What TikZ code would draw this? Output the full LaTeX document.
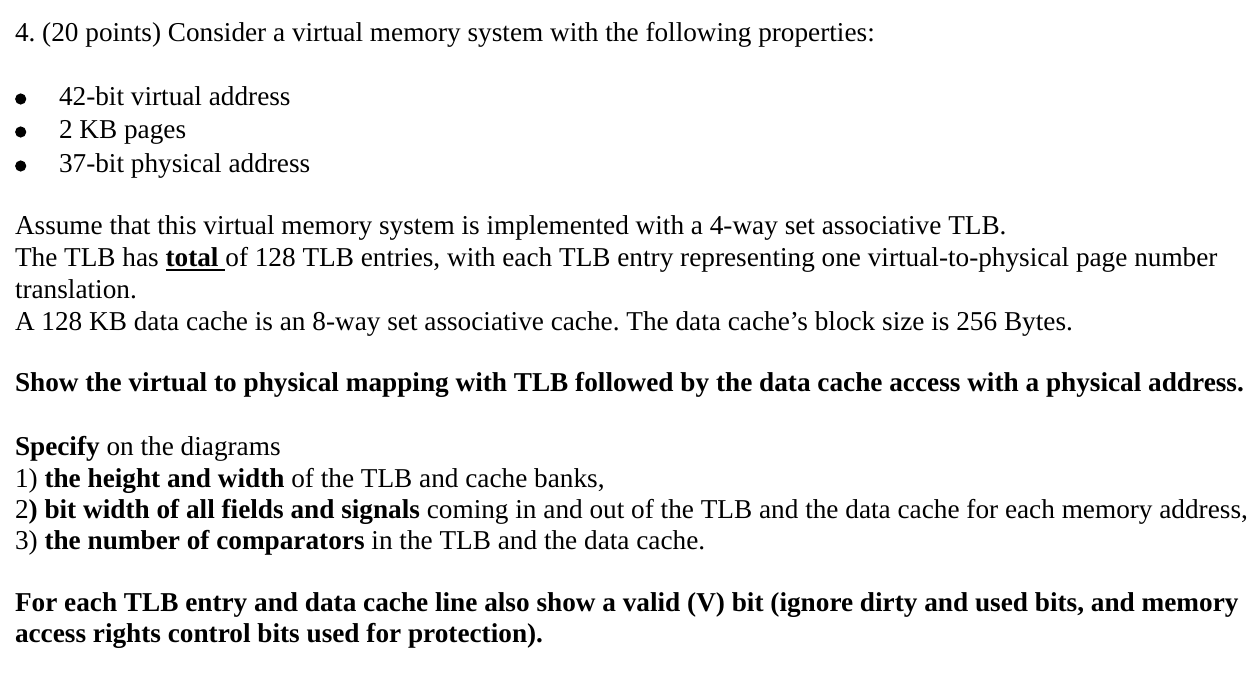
\documentclass[tikz,border=0pt]{standalone}
\usepackage{fontspec}
\setmainfont{Liberation Serif}
\newcommand\mainsz{\fontsize{27.25}{32}\selectfont\frenchspacing}
\newcommand\myul[1]{\setbox0\hbox{#1}\rlap{\rule[-4.5pt]{\wd0}{2.2pt}}\box0}
\begin{document}
\begin{tikzpicture}[x=1pt,y=-1pt,
  txt/.style={anchor=base west, inner sep=0pt, outer sep=0pt, font=\mainsz},
  bul/.style={fill=black}]
\useasboundingbox[fill=white] (0,0) rectangle (1256,700);
\node[txt] (l1) at (15,42) {4. (20 points) Consider a virtual memory system with the following properties:};
\coordinate (b1) at (20.7,99);
\coordinate (b2) at (20.7,132);
\coordinate (b3) at (20.7,166);
\foreach \b in {b1,b2,b3} \fill[bul] (\b) circle[radius=5.6pt];
\node[txt] (p1) at (59,106) {42-bit virtual address};
\node[txt] (p2) at (59,139) {2 KB pages};
\node[txt] (p3) at (59,173) {37-bit physical address};
\node[txt] (a1) at (15,235) {Assume that this virtual memory system is implemented with a 4-way set associative TLB.};
\node[txt] (a2) at (15,267) {The TLB has \myul{\textbf{total }}of 128 TLB entries, with each TLB entry representing one virtual-to-physical page number};
\node[txt] (a3) at (15,299) {translation.};
\node[txt] (a4) at (15,331) {A 128 KB data cache is an 8-way set associative cache. The data cache’s block size is 256 Bytes.};
\node[txt] (s1) at (15,392) {\textbf{Show the virtual to physical mapping with TLB followed by the data cache access with a physical address.}};
\node[txt] (c0) at (15,455) {\textbf{Specify} on the diagrams};
\node[txt] (c1) at (15,487) {1) \textbf{the height and width} of the TLB and cache banks,};
\node[txt] (c2) at (15,518) {2\textbf{) bit width of all fields and signals} coming in and out of the TLB and the data cache for each memory address,};
\node[txt] (c3) at (15,549) {3) \textbf{the number of comparators} in the TLB and the data cache.};
\node[txt] (f1) at (15,611) {\textbf{For each TLB entry and data cache line also show a valid (V) bit (ignore dirty and used bits, and memory}};
\node[txt] (f2) at (15,642) {\textbf{access rights control bits used for protection).}};
\end{tikzpicture}
\end{document}
